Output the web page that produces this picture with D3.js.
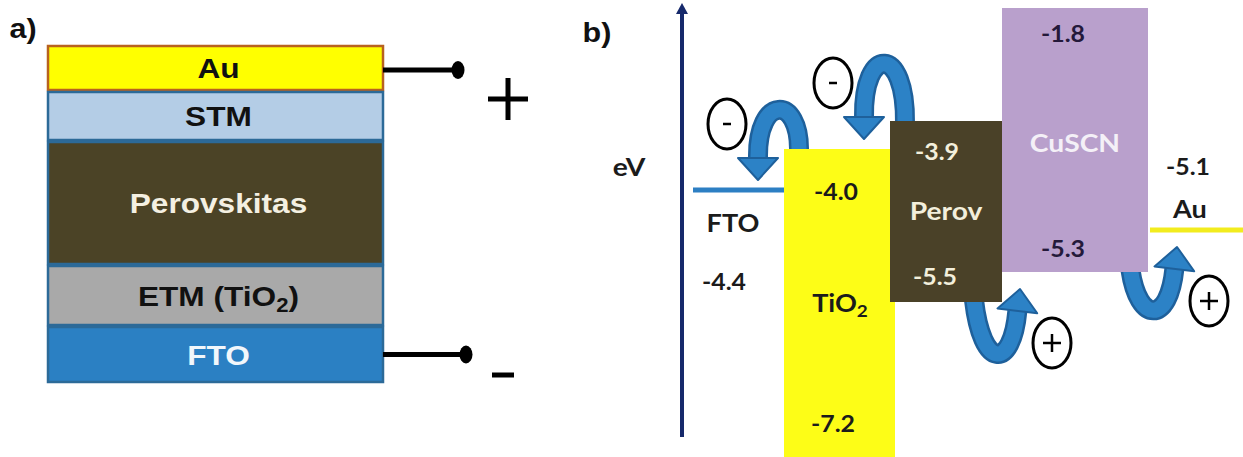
<!DOCTYPE html>
<html>
<head>
<meta charset="utf-8">
<script src="https://cdn.jsdelivr.net/npm/d3@7"></script>
<style>
  body { margin: 0; background: #fff; }
  svg { display: block; }
</style>
</head>
<body>
<div id="renderer"></div>
<script>
// ---- panel a : device stack, top to bottom
var layers = ['Au', 'STM', 'Perovskitas', 'ETM (TiO2)', 'FTO'];
var layerThick = [46, 50, 124, 61, 57];   // relative thickness as drawn

// ---- panel b : energy levels (eV)
var materials = ['FTO', 'TiO2', 'Perov', 'CuSCN', 'Au'];
var cbLevel = [null, -4.0, -3.9, -1.8, null];   // top edge of the band
var vbLevel = [null, -7.2, -5.5, -5.3, null];   // bottom edge of the band
var workFn  = [-4.4, null, null, null, -5.1];   // metal / FTO level
var electronSteps = [['TiO2', 'FTO'], ['Perov', 'TiO2']];
var holeSteps     = [['Perov', 'CuSCN'], ['CuSCN', 'Au']];

var W = 1243, H = 457;
var SX = 1.13;   // the original figure is a bit stretched sideways

var root = d3.select('#renderer').append('svg')
    .attr('width', W)
    .attr('height', H);

function label(g, x, y, str, size, color, family, sub){
    var t = g.append('text')
        .attr('transform', 'translate(' + x + ',' + y + ') scale(' + SX + ',1)')
        .attr('text-anchor', 'middle')
        .attr('font-family', family)
        .attr('font-weight', 'bold')
        .attr('font-size', size)
        .attr('fill', color);
    if(sub){
        // chemical formula with subscript "2"
        var parts = str.split('2');
        t.append('tspan').text(parts[0]);
        t.append('tspan').attr('font-size', size * 0.7).attr('dy', size * 0.22).text('2');
        if(parts[1]) t.append('tspan').attr('dy', -size * 0.22).text(parts[1]);
    } else {
        t.text(str);
    }
    return t;
}

var ARIAL = "'Liberation Sans', Arial, sans-serif";
var CAL = "Lato, 'Open Sans', sans-serif";

// ================= panel a =================
var ga = root.append('g');
label(ga, 23, 38, 'a)', 27, '#111', ARIAL);

var cum = [0];
for(var i = 0; i < layerThick.length; i ++){
    cum.push(cum[i] + layerThick[i]);
}
var yStack = d3.scaleLinear().domain([0, cum[cum.length - 1]]).range([45, 383]);
var stackX0 = 48, stackX1 = 383;

var layerFill   = ['#ffff00', '#b4cde6', '#4b4326', '#a9a9a9', '#2b80c3'];
var layerStroke = ['#b8621f', '#2c6a98', '#2c6a98', '#2c6a98', '#2c6a98'];
var layerText   = ['#111', '#111', '#f4f0e2', '#111', '#f2f7fb'];

layers.forEach(function(name, i){
    var y0 = yStack(cum[i]), y1 = yStack(cum[i + 1]);
    ga.append('rect')
        .attr('x', stackX0)
        .attr('y', y0 + 1)
        .attr('width', stackX1 - stackX0)
        .attr('height', y1 - y0 - 2)
        .attr('fill', layerFill[i])
        .attr('stroke', layerStroke[i])
        .attr('stroke-width', 2.5);
    var cy = (y0 + y1) / 2;
    label(ga, (stackX0 + stackX1) / 2 + 3, cy + 10, name, 28, layerText[i], ARIAL, name.indexOf('2') >= 0);
});

// terminals
function terminal(y, dotX, sign, sx, sy){
    ga.append('line')
        .attr('x1', stackX1).attr('x2', dotX)
        .attr('y1', y).attr('y2', y)
        .attr('stroke', '#000').attr('stroke-width', 5);
    ga.append('ellipse')
        .attr('cx', dotX).attr('cy', y)
        .attr('rx', 6.5).attr('ry', 9)
        .attr('fill', '#000');
    if(sign === '+'){
        ga.append('line').attr('x1', sx - 20).attr('x2', sx + 20).attr('y1', sy).attr('y2', sy)
            .attr('stroke', '#000').attr('stroke-width', 5);
        ga.append('line').attr('x1', sx).attr('x2', sx).attr('y1', sy - 21).attr('y2', sy + 21)
            .attr('stroke', '#000').attr('stroke-width', 5);
    } else {
        ga.append('line').attr('x1', sx - 11).attr('x2', sx + 11).attr('y1', sy).attr('y2', sy)
            .attr('stroke', '#000').attr('stroke-width', 5);
    }
}
var auMid = (yStack(cum[0]) + yStack(cum[1])) / 2 + 2;
var ftoMid = (yStack(cum[4]) + yStack(cum[5])) / 2;
terminal(auMid, 458, '+', 508, 99);
terminal(ftoMid, 466, '-', 503, 375);

// ================= panel b =================
var gb = root.append('g');
label(gb, 597, 42, 'b)', 27, '#111', ARIAL);

// schematic (not to scale) energy axis, as in the original
var levels = [];
cbLevel.concat(vbLevel, workFn).forEach(function(v){ if(v !== null && levels.indexOf(v) < 0) levels.push(v); });
levels.sort(function(a, b){ return b - a; });
var yE = d3.scaleLinear()
    .domain(levels)                                   // -1.8 ... -7.2
    .range([8, 121, 149, 190, 230, 272, 302, 480]);

var xBand = d3.scaleOrdinal()
    .domain(materials)
    .range([[693, 785], [784, 895], [890, 1002], [1002, 1148], [1150, 1243]]);

function idx(m){ return materials.indexOf(m); }

// vertical eV axis
gb.append('line')
    .attr('x1', 682).attr('x2', 682)
    .attr('y1', 437).attr('y2', 12)
    .attr('stroke', '#16296b').attr('stroke-width', 4);
gb.append('path')
    .attr('d', 'M676,14 L682,3 L688,14 Z')
    .attr('fill', '#16296b');
label(gb, 629, 176, 'eV', 25, '#1b1b1b', CAL);

// --- charge transfer arrows (drawn first, bands cover their tails)
var gArrows = gb.append('g');
var arrowDark = '#1e609b', arrowFace = '#2c82c6';

function drawArrow(tail, tip, dir, c1, c2){
    var headLen = 22, half = 20;
    var base = [tip[0] - dir[0] * headLen, tip[1] - dir[1] * headLen];
    var d = 'M' + tail[0] + ',' + tail[1] +
        ' C' + c1[0] + ',' + c1[1] + ' ' + c2[0] + ',' + c2[1] + ' ' + base[0] + ',' + base[1];
    gArrows.append('path').attr('d', d).attr('fill', 'none')
        .attr('stroke', arrowDark).attr('stroke-width', 20);
    gArrows.append('path').attr('d', d).attr('fill', 'none')
        .attr('stroke', arrowFace).attr('stroke-width', 15);
    var nx = -dir[1], ny = dir[0];
    var pts = [
        [base[0] + nx * half, base[1] + ny * half],
        [tip[0], tip[1]],
        [base[0] - nx * half, base[1] - ny * half]
    ];
    gArrows.append('path')
        .attr('d', 'M' + pts.map(function(p){ return p[0] + ',' + p[1]; }).join(' L') + ' Z')
        .attr('fill', arrowFace).attr('stroke', arrowDark).attr('stroke-width', 2)
        .attr('stroke-linejoin', 'round');
}

function chargeCircle(cx, cy, sign){
    gb.append('ellipse')
        .attr('cx', cx).attr('cy', cy)
        .attr('rx', 19).attr('ry', 25)
        .attr('fill', 'none').attr('stroke', '#000').attr('stroke-width', 3);
    var w = sign === '+' ? 9 : 4;
    gb.append('line').attr('x1', cx - w).attr('x2', cx + w).attr('y1', cy).attr('y2', cy)
        .attr('stroke', '#000').attr('stroke-width', 2.5);
    if(sign === '+'){
        gb.append('line').attr('x1', cx).attr('x2', cx).attr('y1', cy - 9).attr('y2', cy + 9)
            .attr('stroke', '#000').attr('stroke-width', 2.5);
    }
}

function levelOf(m, kind){
    var i = idx(m);
    if(workFn[i] !== null) return workFn[i];
    return kind === 'cb' ? cbLevel[i] : vbLevel[i];
}

var eRise = [56, 78];
electronSteps.forEach(function(s, k){
    var from = s[0], to = s[1];
    var x0 = xBand(from)[0];
    var tail = [x0 + 15, yE(cbLevel[idx(from)]) + 2];
    var tip = [x0 - 26, yE(levelOf(to, 'cb')) - 10];
    var cy = tail[1] - eRise[k];
    drawArrow(tail, tip, [0, 1], [tail[0] + 1, cy], [tip[0] - 1, cy]);
    chargeCircle(tip[0] - 31, tip[1] - 56, '-');
});

var hTail = [0.75, 0.88];
var hDrop = [70, 54];
holeSteps.forEach(function(s, k){
    var from = s[0], to = s[1];
    var xb = xBand(from);
    var tail = [xb[0] + (xb[1] - xb[0]) * hTail[k], yE(vbLevel[idx(from)]) - 2];
    var tip = [xBand(to)[0] + (k === 0 ? 18 : 27), yE(levelOf(to, 'vb')) + 17];
    var len = Math.sqrt(0.12 * 0.12 + 1);
    var dir = [0.12 / len, -1 / len];
    var cy = tail[1] + hDrop[k];
    drawArrow(tail, tip, dir, [tail[0] + 8, cy], [tip[0] - 8, cy]);
    chargeCircle(tip[0] + 32, tip[1] + 54, '+');
});

// --- bands
var bandFill = { TiO2: '#fdfd17', Perov: '#4a4128', CuSCN: '#b9a0cc' };
materials.forEach(function(m, i){
    var xb = xBand(m);
    if(cbLevel[i] !== null){
        gb.append('rect')
            .attr('x', xb[0])
            .attr('y', yE(cbLevel[i]))
            .attr('width', xb[1] - xb[0])
            .attr('height', yE(vbLevel[i]) - yE(cbLevel[i]))
            .attr('fill', bandFill[m]);
    } else {
        gb.append('line')
            .attr('x1', xb[0]).attr('x2', xb[1])
            .attr('y1', yE(workFn[i])).attr('y2', yE(workFn[i]))
            .attr('stroke', m === 'Au' ? '#f2ec1e' : '#2d7fc3')
            .attr('stroke-width', 5);
    }
});

// --- band labels
function fmt(v){ return '-' + Math.abs(v).toFixed(1); }
var NUM = 22, NAME = 25;

// FTO
var iF = idx('FTO');
label(gb, 733, yE(workFn[iF]) + 42, 'FTO', NAME - 1, '#1b1b1b', CAL);
label(gb, 724, yE(workFn[iF]) + 100, fmt(workFn[iF]), NUM, '#1b1b1b', CAL);

// TiO2
var iT = idx('TiO2');
label(gb, 836, yE(cbLevel[iT]) + 51, fmt(cbLevel[iT]), NUM, '#1b1b1b', CAL);
label(gb, 840, 312, 'TiO2', NAME - 1, '#1b1b1b', CAL, true);
label(gb, 833, 432, fmt(vbLevel[iT]), NUM, '#1b1b1b', CAL);

// Perovskite
var iP = idx('Perov');
label(gb, 937, yE(cbLevel[iP]) + 39, fmt(cbLevel[iP]), NUM, '#f3efdc', CAL);
label(gb, 946, 220, 'Perov', NAME, '#f3efdc', CAL);
label(gb, 935, yE(vbLevel[iP]) - 17, fmt(vbLevel[iP]), NUM, '#f3efdc', CAL);

// CuSCN
var iC = idx('CuSCN');
label(gb, 1063, yE(cbLevel[iC]) + 34, fmt(cbLevel[iC]), NUM, '#24193a', CAL);
label(gb, 1075, 152, 'CuSCN', NAME, '#f4f0f7', CAL);
label(gb, 1063, yE(vbLevel[iC]) - 15, fmt(vbLevel[iC]), NUM, '#24193a', CAL);

// Au
var iA = idx('Au');
label(gb, 1188, 175, fmt(workFn[iA]), NUM, '#1b1b1b', CAL);
label(gb, 1190, yE(workFn[iA]) - 12, 'Au', NAME - 1, '#1b1b1b', CAL);
</script>
</body>
</html>
